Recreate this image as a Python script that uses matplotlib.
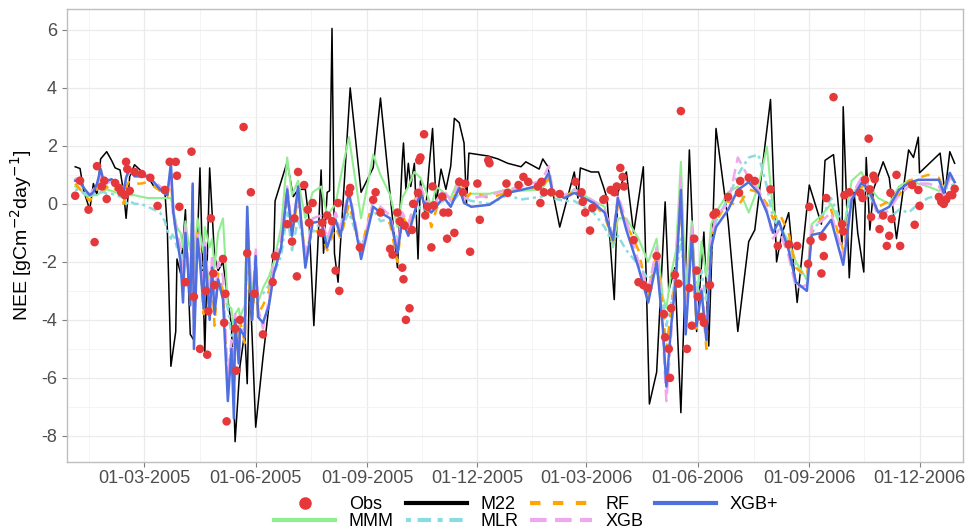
import numpy as np
import pandas as pd
import matplotlib
matplotlib.use('Agg')
import matplotlib.pyplot as plt
from matplotlib.lines import Line2D
import matplotlib.dates as mdates

plt.rcParams['font.family'] = ['Liberation Sans', 'DejaVu Sans']
plt.rcParams['axes.unicode_minus'] = False

# days counted from 01-01-2005
base = pd.Timestamp('2005-01-01')

# observed NEE
obs_days = [2, 6, 13, 18, 20, 24, 26, 28, 35, 38, 40, 43, 44, 45, 47, 51, 57, 64, 70, 76,
            80, 85, 86, 88, 93, 98, 100, 105, 110, 111, 112, 114, 116, 117, 124, 125, 126, 127, 134, 135,
            138, 141, 144, 147, 150, 157, 165, 167, 177, 181, 183, 185, 186, 191, 194, 195, 198, 205, 206, 210,
            214, 217, 219, 220, 228, 229, 237, 248, 250, 254, 262, 264, 268, 270, 272, 273, 274, 275, 278, 280,
            281, 285, 286, 287, 290, 291, 293, 296, 297, 298, 305, 306, 309, 310, 315, 319, 322, 324, 328, 334,
            336, 343, 344, 358, 359, 368, 372, 376, 384, 386, 387, 389, 395, 402, 415, 420, 421, 423, 427, 429,
            438, 439, 444, 447, 449, 452, 454, 455, 463, 467, 471, 475, 482, 488, 489, 492, 493, 494, 497, 500,
            502, 507, 509, 511, 513, 515, 516, 519, 521, 526, 529, 531, 541, 550, 551, 558, 563, 576, 582, 591,
            598, 607, 608, 609, 618, 619, 620, 622, 628, 635, 636, 637, 641, 650, 652, 654, 657, 658, 659, 661,
            662, 666, 669, 672, 674, 675, 676, 680, 683, 693, 695, 698, 699, 715, 717, 719, 721, 724, 726, 728]
obs_vals = [0.28, 0.8, -0.2, -1.32, 1.3, 0.6, 0.8, 0.17, 0.72, 0.55, 0.4, 0.3, 1.45, 1.2, 0.45, 1.1, 1.03, 0.9, -0.07, 0.48,
            1.45, 1.45, 0.97, -0.1, -2.7, 1.8, -3.2, -5.0, -3.0, -5.2, -3.7, -0.5, -2.4, -2.8, -1.9, -4.1, -3.1, -7.5, -4.3, -5.75,
            -4.0, 2.65, -1.7, 0.4, -3.1, -4.5, -2.7, -1.8, -0.7, -1.3, -0.5, -2.5, 1.1, 0.65, -0.2, -0.65, 0.03, -1.0, -0.65, -0.4,
            -0.6, -2.3, 0.03, -3.0, 0.38, 0.55, -1.5, 0.14, 0.4, -0.3, -1.55, -1.75, -0.3, -0.6, -2.2, -2.6, -0.75, -4.0, -3.6, -0.9,
            0.0, 0.38, 1.5, 1.6, 2.4, -0.4, -0.1, -1.5, 0.6, -0.05, 0.25, -0.3, -1.2, -0.3, -1.0, 0.76, 0.4, 0.7, -1.65, 0.7,
            -0.55, 1.5, 1.4, 0.7, 0.38, 0.65, 0.93, 0.76, 0.6, 0.03, 0.76, 0.4, 0.4, 0.34, 0.76, 0.4, 0.07, -0.3, -0.92, -0.14,
            0.14, 0.17, 0.48, 0.4, 0.6, 1.24, 0.93, 0.6, -1.25, -2.7, -2.8, -2.9, -1.8, -3.8, -4.6, -5.0, -6.0, -3.6, -2.45, -2.75,
            3.2, -5.0, -2.9, -4.2, -1.2, -2.3, -3.2, -3.9, -4.1, -2.8, -0.38, -0.3, 0.24, 0.38, 0.79, 0.9, 0.79, 0.5, -1.45, -1.4,
            -1.45, -2.07, -0.1, -1.27, -2.4, -1.13, -1.8, 0.2, 3.68, -0.7, -0.95, 0.3, 0.4, 0.38, 0.2, 0.83, 2.25, 0.5, -0.45, 0.97,
            0.85, -0.87, -0.4, -1.45, -1.1, 0.38, -0.52, 1.0, -1.45, 0.65, -0.72, 0.48, -0.07, 0.24, 0.07, 0.0, 0.15, 0.3, 0.3, 0.52]

# M22 model
m22_days = [2, 6, 9, 14, 17, 20, 23, 26, 28, 32, 35, 39, 42, 44, 47, 51, 56, 62, 67, 72,
            76, 78, 81, 85, 86, 89, 93, 97, 100, 105, 109, 113, 117, 120, 124, 128, 131, 134, 138, 142,
            144, 146, 151, 157, 162, 166, 167, 177, 182, 186, 192, 195, 199, 202, 205, 207, 210, 212, 214, 216,
            219, 229, 238, 248, 254, 268, 272, 273, 275, 277, 279, 282, 285, 287, 291, 294, 297, 300, 304, 308,
            312, 315, 319, 323, 325, 327, 343, 351, 359, 370, 374, 385, 388, 392, 402, 414, 417, 419, 428, 434,
            438, 441, 447, 450, 453, 457, 463, 471, 476, 482, 489, 492, 497, 502, 509, 515, 521, 525, 531, 541,
            549, 558, 563, 576, 581, 585, 591, 598, 608, 618, 621, 628, 635, 636, 641, 645, 648, 653, 655, 658,
            661, 669, 674, 680, 690, 694, 698, 699, 716, 720, 724, 728]
m22_vals = [1.28, 1.22, 0.45, -0.2, 0.7, 0.3, 1.55, 1.7, 1.8, 1.5, 1.24, 1.17, 0.4, -0.5, 0.95, 1.35, 1.15, 0.93, 0.6, 0.5,
            0.45, -0.8, -5.6, -4.4, -1.9, -2.4, -0.2, -4.5, -4.7, 1.24, -5.1, 1.24, -1.8, -2.3, -2.0, -3.3, -4.2, -8.2, -5.6, -4.4,
            -6.2, -2.4, -7.7, -5.3, -3.5, -1.5, 0.1, 1.45, 0.25, 0.5, 0.5, -0.55, -4.2, -1.7, 1.17, -1.7, 0.4, 0.45, 6.05, -1.7,
            -2.7, 4.0, 0.4, 1.25, 3.65, -2.2, 1.5, 2.1, 0.5, 1.4, 0.6, 1.4, -1.9, 0.8, -0.4, 1.2, 2.6, 0.0, 1.2, 0.5,
            1.3, 2.95, 2.8, 2.1, 0.0, 1.75, 1.65, 1.55, 1.4, 1.28, 1.45, 1.2, 1.55, 1.3, -0.8, 1.1, 0.2, 1.24, 1.1, 1.1,
            0.6, 0.2, -3.3, 0.4, 0.7, 1.1, -1.0, 1.28, -6.9, -5.8, 0.07, -3.0, -2.2, -7.2, 1.86, -4.4, -0.97, -4.9, 2.6, -0.6,
            -4.4, -1.3, -0.9, 3.6, -2.0, -1.1, -0.3, -3.4, 0.65, -0.7, 1.5, 1.7, -1.4, 3.35, -2.55, 0.4, -1.0, -2.35, 1.6, -0.9,
            0.5, 1.45, 0.9, -1.2, 1.86, 1.6, 2.3, 1.07, 1.75, 0.38, 1.8, 1.4]

# the other models share one set of dates
model_days = [2, 6, 10, 14, 17, 20, 23, 26, 28, 32, 35, 39, 42, 44, 47, 51, 56, 62, 67, 72, 76, 78,
              81, 83, 86, 89, 91, 93, 95, 97, 99, 100, 103, 105, 108, 109, 113, 115, 117, 120, 124, 128,
              131, 133, 134, 137, 138, 142, 144, 146, 148, 151, 153, 157, 162, 166,
              172, 177, 181, 186, 192, 198, 205, 210, 217, 221, 228, 238, 248, 254, 262, 268, 272, 277, 282, 287,
              291, 296, 300, 306, 312, 319, 323, 329, 344, 359, 370, 387, 393, 396, 406, 414, 422, 430, 439, 446,
              450, 457, 467, 475, 482, 487, 490, 494, 498, 502, 506, 511, 515, 519, 523, 527, 531, 541, 549, 558,
              566, 573, 578, 583,
              591, 597, 606, 610, 618, 626, 636, 643, 651, 657, 665, 674, 682, 690, 698, 706, 715, 719, 724, 728]

xgbp_vals = [0.8, 0.75, 0.5, 0.3, 0.4, 0.7, 1.2, 0.7, 0.8, 0.85, 0.75, 0.6, 0.4, 0.9, 1.25, 0.95, 0.95, 0.95, 0.75, 0.5, 0.35, 0.3,
             1.4, -0.3, -1.2, -2.0, -3.4, -1.0, -2.2, -3.5, 0.7, -5.0, -1.2, -2.0, -3.6, -1.5, -4.0, -2.2, -3.8, -2.6, -3.3, -6.8,
             -5.0, -7.4, -4.0, -5.5, -4.3, -4.6, -0.1, -2.5, -4.0, -1.8, -3.9, -4.1, -3.5, -2.4,
             -1.5, 0.5, -1.1, 0.6, -2.2, -0.65, -0.6, -1.5, -0.55, -1.1, 0.4, -1.9, -0.1, -0.3, -0.5, -1.7, -0.55, -1.1, -0.3, 0.4,
             -0.1, -0.3, -0.1, 0.24, -0.1, 0.55, 0.03, -0.1, -0.03, 0.38, 0.48, 0.65, 1.07, 0.4, 0.2, 0.38, 0.2, 0.03, -0.3, -1.24,
             0.2, -0.9, -2.2, -3.4, -2.0, -4.2, -6.3, -4.2, -2.5, 0.48, -4.5, -1.1, -4.2, -3.0, -4.7, -1.5, -0.8, -0.2, 0.48, 0.75,
             0.38, -0.3, -1.0, -0.6,
             -1.6, -2.7, -3.0, -1.07, -1.0, -0.55, -2.1, 0.14, 0.72, 0.5, -0.3, -0.1, 0.48, 0.72, 0.83, 0.83, 0.83, 0.38, 1.07, 0.75]

mmm_vals = [0.6, 0.5, 0.3, 0.25, 0.3, 0.3, 0.4, 0.45, 0.5, 0.45, 0.4, 0.35, 0.35, 0.3, 0.3, 0.3, 0.25, 0.2, 0.2, 0.2, 0.2, 0.2,
            0.2, -0.2, -0.8, -1.0, -1.5, -0.6, -1.2, -1.6, -0.3, -2.0, -0.5, -1.0, -1.7, -0.8, -1.5, -1.2, -2.2, -1.0, -0.5, -3.5,
            -3.6, -4.4, -3.8, -3.6, -3.9, -3.5, -0.1, -1.9, -3.0, -2.4, -3.4, -2.9, -2.5, -2.0,
            -0.8, 1.6, 0.3, 0.8, -0.5, 0.4, 0.6, -0.4, 0.0, 0.9, 2.3, -0.5, 1.7, 1.0, 0.3, -0.8, 0.2, 0.6, 1.1, 0.9,
            0.5, -0.1, 0.6, 0.4, 0.2, 0.9, 0.3, 0.35, 0.35, 0.5, 0.45, 0.5, 0.85, 0.5, 0.2, 0.5, 0.3, 0.1, -0.1, -1.5,
            -0.5, -0.5, -1.2, -2.0, -1.2, -3.2, -3.6, -2.4, -1.6, 1.45, -3.0, -0.6, -3.5, -1.3, -2.5, -0.7, -0.3, 0.4, 0.6, -0.3,
            0.6, 1.97, -0.2, -0.7,
            -1.3, -2.0, -2.6, -0.7, -0.4, 0.0, -1.0, 0.8, 1.1, 0.6, 0.2, 0.0, 0.6, 0.8, 0.7, 0.6, 0.45, 0.6, 0.9, 0.75]

mlr_vals = [0.5, 0.45, 0.35, 0.3, 0.3, 0.35, 0.4, 0.4, 0.35, 0.35, 0.3, 0.25, 0.2, 0.0, 0.1, 0.0, 0.0, -0.1, -0.2, -0.3, -0.6, -0.9,
            -1.2, -1.0, -1.5, -1.4, -2.3, -1.3, -1.8, -2.4, -0.8, -2.8, -1.5, -1.8, -2.6, -1.9, -2.8, -2.3, -3.4, -2.9, -3.0, -3.6,
            -4.5, -4.8, -4.2, -4.4, -4.0, -3.9, -2.0, -2.6, -3.3, -2.9, -3.2, -3.1, -2.8, -2.4,
            -1.8, -0.3, -1.6, -0.5, -1.6, -1.0, -0.6, -1.3, -0.5, -0.9, -0.3, -1.5, -0.2, -0.6, -0.5, -1.3, -0.7, -0.9, -0.4, -0.1,
            -0.2, -0.3, 0.0, 0.1, 0.0, 0.35, 0.2, 0.1, 0.0, 0.3, 0.15, 0.25, 0.4, 0.2, 0.1, 0.1, -0.1, -0.3, -0.8, -1.4,
            -1.1, -1.6, -2.1, -2.6, -2.3, -3.3, -4.2, -3.4, -2.4, -1.2, -2.9, -1.4, -3.0, -2.3, -3.4, -1.6, -0.6, 0.2, 1.0, 1.6,
            1.7, 0.6, -0.5, -0.8,
            -1.3, -2.2, -2.6, -1.0, -0.5, 0.2, -0.8, 0.4, 0.6, 0.3, -0.2, -0.5, -0.2, -0.3, 0.0, 0.2, 0.3, 0.5, 0.6, 0.7]

rf_vals = [0.7, 0.5, 0.3, 0.1, 0.3, 0.5, 0.8, 0.5, 0.6, 0.4, 0.5, 0.45, 0.0, 0.6, 0.8, 0.7, 0.7, 0.75, 0.6, 0.45, 0.3, 0.25,
           1.0, -0.5, -1.0, -1.8, -3.0, -1.2, -2.0, -3.3, 0.0, -4.0, -1.0, -1.8, -3.8, -1.6, -3.5, -2.5, -4.2, -2.4, -3.0, -6.2,
           -5.0, -6.5, -4.5, -5.3, -4.0, -4.8, -1.2, -2.8, -4.0, -2.5, -3.8, -3.5, -3.0, -2.2,
           -1.4, 0.3, -1.0, 0.2, -1.8, -0.9, -1.0, -1.6, -0.8, -1.2, 0.0, -1.6, 0.2, -0.2, -0.7, -2.0, -0.4, -0.8, 0.1, 0.5,
           0.1, -0.8, -0.2, 0.3, 0.0, 0.6, 0.1, 0.4, 0.2, 0.4, 0.5, 0.6, 0.9, 0.3, 0.3, 0.4, 0.2, 0.0, -0.4, -1.3,
           0.0, -0.7, -1.6, -3.2, -1.7, -3.6, -5.0, -3.6, -2.2, 0.2, -4.0, -1.0, -4.3, -2.8, -5.0, -1.2, -0.6, 0.1, -0.1, 0.5,
           0.4, 0.0, -0.5, -0.3,
           -1.0, -2.2, -2.5, -1.0, -0.5, -0.2, -1.6, 0.2, 0.6, 0.4, -0.1, 0.1, 0.3, 0.8, 0.9, 1.0, 0.9, 0.5, 0.9, 0.85]

xgb_vals = [0.9, 0.7, 0.45, 0.3, 0.5, 0.6, 1.0, 0.75, 0.7, 0.8, 0.8, 0.7, 0.5, 0.8, 1.1, 1.0, 0.9, 1.0, 0.8, 0.6, 0.5, 0.4,
            1.0, -0.2, -1.0, -1.5, -2.8, -0.8, -2.0, -3.0, 0.6, -4.5, -1.0, -1.6, -3.0, -1.2, -3.4, -1.8, -3.4, -2.0, -2.5, -6.0,
            -4.7, -6.5, -3.8, -5.2, -4.4, -4.3, -0.6, -2.2, -3.6, -1.5, -3.6, -4.3, -3.3, -2.0,
            -1.2, 0.6, -0.8, 0.5, -1.9, -0.5, -0.4, -1.2, -0.3, -0.8, 0.5, -1.7, 0.1, -0.1, -0.4, -1.5, -0.3, -0.7, 0.0, 0.6,
            0.2, -0.2, 0.1, 0.5, 0.1, 0.7, 0.2, 0.2, 0.3, 0.5, 0.6, 0.8, 1.3, 0.5, 0.3, 0.5, 0.3, 0.1, -0.2, -1.1,
            0.3, -0.6, -2.0, -3.0, -1.5, -4.4, -6.8, -4.5, -2.0, 0.9, -4.3, -0.8, -4.0, -2.8, -4.5, -1.2, -0.4, 0.0, 1.6, 0.9,
            0.5, -0.2, -1.2, -0.9,
            -1.8, -2.9, -2.8, -0.8, -0.6, -0.3, -1.8, 0.3, 0.9, 0.6, -0.5, -0.2, 0.3, 0.6, 0.7, 0.7, 0.6, 0.3, 0.9, 0.8]

tick_dates = ['2005-03-01', '2005-06-01', '2005-09-01', '2005-12-01',
              '2006-03-01', '2006-06-01', '2006-09-01', '2006-12-01']


def to_dates(days):
    return base + pd.to_timedelta(days, unit='D')


fig = plt.figure(figsize=(9.67, 5.32), dpi=100)
ax = fig.add_axes([0.069, 0.1316, 0.927, 0.8515])

mdl_t = to_dates(model_days)
ax.plot(to_dates(m22_days), m22_vals, color='black', lw=1.1, zorder=3)
ax.plot(mdl_t, mmm_vals, color='#90EE90', lw=1.5, zorder=4)
ax.plot(mdl_t, mlr_vals, color='#8ADCE0', lw=1.8, ls=(0, (1.2, 1.6, 3.2, 1.6)), zorder=4)
ax.plot(mdl_t, rf_vals, color='#FFA500', lw=1.8, ls=(0, (3.5, 3.5)), zorder=4)
ax.plot(mdl_t, xgb_vals, color='#EEA9EE', lw=1.8, ls=(0, (5, 2.5)), zorder=4)
ax.plot(mdl_t, xgbp_vals, color='#4F6FE0', lw=1.8, zorder=5)
ax.scatter(to_dates(obs_days), obs_vals, s=38, color='#E5383B', edgecolors='none', zorder=6)

# axes styling, ggplot theme_bw look
ax.set_xlim(pd.Timestamp('2004-12-27'), pd.Timestamp('2007-01-06'))
ax.set_ylim(-8.9, 6.72)
ax.set_yticks([-8, -6, -4, -2, 0, 2, 4, 6])
ax.set_yticks([-7, -5, -3, -1, 1, 3, 5], minor=True)
ticks = pd.to_datetime(tick_dates)
ax.set_xticks(ticks)
ax.xaxis.set_major_formatter(mdates.DateFormatter('%d-%m-%Y'))
minor = [pd.Timestamp('2005-01-14')] + [ticks[i] + (ticks[i + 1] - ticks[i]) / 2 for i in range(len(ticks) - 1)]
ax.set_xticks(minor, minor=True)
ax.grid(which='major', color='#EBEBEB', lw=0.9)
ax.grid(which='minor', color='#F2F2F2', lw=0.6)
ax.set_axisbelow(True)
for s in ax.spines.values():
    s.set_color('#BEBEBE')
    s.set_linewidth(1.0)
ax.tick_params(which='major', length=3.5, color='#7F7F7F', labelcolor='#4D4D4D', labelsize=13)
ax.tick_params(axis='x', pad=2)
ax.tick_params(which='minor', length=0)
ax.set_ylabel('NEE [gCm$^{-2}$day$^{-1}$]', fontsize=14, color='black', labelpad=5)

# legend, two rows under the plot
handles = [
    Line2D([], [], ls='none', marker='o', color='#E5383B', markersize=8),
    Line2D([], [], color='#90EE90', lw=3),
    Line2D([], [], color='black', lw=3),
    Line2D([], [], color='#8ADCE0', lw=3, ls=(0, (1.2, 1.6, 3.2, 1.6))),
    Line2D([], [], color='#FFA500', lw=3, ls=(0, (2.5, 3))),
    Line2D([], [], color='#EEA9EE', lw=3, ls=(0, (4, 2))),
    Line2D([], [], color='#4F6FE0', lw=3),
]
labels = ['Obs', 'MMM', 'M22', 'MLR', 'RF', 'XGB', 'XGB+']
fig.legend(handles, labels, loc='center left', bbox_to_anchor=(0.274, 0.036), ncol=4,
           frameon=False, fontsize=13, handlelength=3.4, columnspacing=0.65,
           labelspacing=0.0, handletextpad=0.75, borderpad=0.0, handleheight=0.6)

fig.savefig('out.png', dpi=100)
